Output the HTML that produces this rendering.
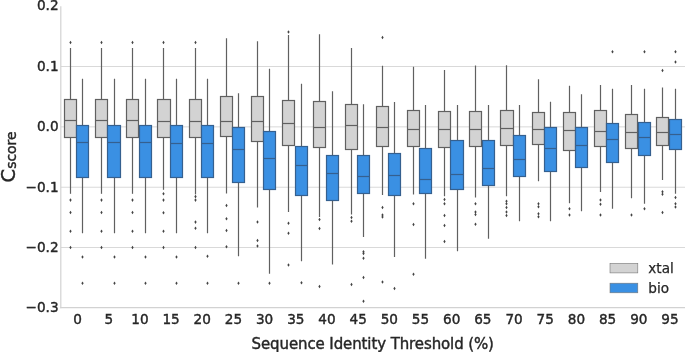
<!DOCTYPE html>
<html lang="en">
<head>
<meta charset="utf-8">
<title>Cscore vs Sequence Identity Threshold</title>
<style>
html,body{margin:0;padding:0;background:#ffffff;}
body{width:685px;height:352px;overflow:hidden;}
svg{display:block;}
text{font-family:"DejaVu Sans","Liberation Sans",sans-serif;fill:#262626;stroke:#262626;stroke-width:0.4px;}
.tick{font-size:13.6px;stroke-width:0.25px;}
.lab{font-size:15px;}
.leg{font-size:13.6px;stroke-width:0.25px;}
</style>
</head>
<body>
<svg width="685" height="352" viewBox="0 0 685 352">
<rect x="0" y="0" width="685" height="352" fill="#ffffff"/>

<g stroke="#d2d2d2" stroke-width="0.85" fill="none">
<line x1="60.8" y1="66.5" x2="685" y2="66.5"/>
<line x1="60.8" y1="126.85" x2="685" y2="126.85"/>
<line x1="60.8" y1="187.25" x2="685" y2="187.25"/>
<line x1="60.8" y1="247.5" x2="685" y2="247.5"/>
</g>
<g stroke="#606060" stroke-width="1.2" fill="none">
<line x1="70.5" y1="48" x2="70.5" y2="99.5"/>
<line x1="70.5" y1="137.5" x2="70.5" y2="193.8"/>
<rect x="64.5" y="99.5" width="12" height="38" fill="#d3d3d3"/>
<line x1="64.5" y1="120.5" x2="76.5" y2="120.5"/>
<line x1="82.5" y1="78.75" x2="82.5" y2="125.5"/>
<line x1="82.5" y1="177.5" x2="82.5" y2="233.25"/>
<rect x="76.5" y="125.5" width="12" height="52" fill="#3a90e3" stroke="#35608f"/>
<line x1="76.5" y1="142.5" x2="88.5" y2="142.5" stroke="#35608f"/>
<line x1="101.5" y1="48" x2="101.5" y2="99.5"/>
<line x1="101.5" y1="137.5" x2="101.5" y2="193.8"/>
<rect x="95.5" y="99.5" width="12" height="38" fill="#d3d3d3"/>
<line x1="95.5" y1="120.5" x2="107.5" y2="120.5"/>
<line x1="114.5" y1="78.75" x2="114.5" y2="125.5"/>
<line x1="114.5" y1="177.5" x2="114.5" y2="233.25"/>
<rect x="107.5" y="125.5" width="13" height="52" fill="#3a90e3" stroke="#35608f"/>
<line x1="107.5" y1="142.5" x2="120.5" y2="142.5" stroke="#35608f"/>
<line x1="132.5" y1="48" x2="132.5" y2="99.5"/>
<line x1="132.5" y1="137.5" x2="132.5" y2="193.8"/>
<rect x="126.5" y="99.5" width="12" height="38" fill="#d3d3d3"/>
<line x1="126.5" y1="120.5" x2="138.5" y2="120.5"/>
<line x1="145.5" y1="78.75" x2="145.5" y2="125.5"/>
<line x1="145.5" y1="177.5" x2="145.5" y2="233.25"/>
<rect x="139.5" y="125.5" width="12" height="52" fill="#3a90e3" stroke="#35608f"/>
<line x1="139.5" y1="142.5" x2="151.5" y2="142.5" stroke="#35608f"/>
<line x1="163.5" y1="48" x2="163.5" y2="99.5"/>
<line x1="163.5" y1="137.5" x2="163.5" y2="189.8"/>
<rect x="157.5" y="99.5" width="13" height="38" fill="#d3d3d3"/>
<line x1="157.5" y1="121.5" x2="170.5" y2="121.5"/>
<line x1="176.5" y1="78.75" x2="176.5" y2="125.5"/>
<line x1="176.5" y1="177.5" x2="176.5" y2="233.25"/>
<rect x="170.5" y="125.5" width="12" height="52" fill="#3a90e3" stroke="#35608f"/>
<line x1="170.5" y1="143.5" x2="182.5" y2="143.5" stroke="#35608f"/>
<line x1="195.5" y1="48" x2="195.5" y2="99.5"/>
<line x1="195.5" y1="137.5" x2="195.5" y2="194.4"/>
<rect x="189.5" y="99.5" width="12" height="38" fill="#d3d3d3"/>
<line x1="189.5" y1="121.5" x2="201.5" y2="121.5"/>
<line x1="207.5" y1="78.75" x2="207.5" y2="125.5"/>
<line x1="207.5" y1="177.5" x2="207.5" y2="233.25"/>
<rect x="201.5" y="125.5" width="12" height="52" fill="#3a90e3" stroke="#35608f"/>
<line x1="201.5" y1="143.5" x2="213.5" y2="143.5" stroke="#35608f"/>
<line x1="226.5" y1="38.25" x2="226.5" y2="96.5"/>
<line x1="226.5" y1="136.5" x2="226.5" y2="193.5"/>
<rect x="220.5" y="96.5" width="12" height="40" fill="#d3d3d3"/>
<line x1="220.5" y1="121.5" x2="232.5" y2="121.5"/>
<line x1="238.5" y1="93.25" x2="238.5" y2="127.5"/>
<line x1="238.5" y1="182.5" x2="238.5" y2="256.25"/>
<rect x="232.5" y="127.5" width="12" height="55" fill="#3a90e3" stroke="#35608f"/>
<line x1="232.5" y1="149.5" x2="244.5" y2="149.5" stroke="#35608f"/>
<line x1="257.5" y1="41.25" x2="257.5" y2="96.5"/>
<line x1="257.5" y1="141.5" x2="257.5" y2="207.5"/>
<rect x="251.5" y="96.5" width="12" height="45" fill="#d3d3d3"/>
<line x1="251.5" y1="121.5" x2="263.5" y2="121.5"/>
<line x1="269.5" y1="68.75" x2="269.5" y2="131.5"/>
<line x1="269.5" y1="189.5" x2="269.5" y2="273.75"/>
<rect x="263.5" y="131.5" width="12" height="58" fill="#3a90e3" stroke="#35608f"/>
<line x1="263.5" y1="158.5" x2="275.5" y2="158.5" stroke="#35608f"/>
<line x1="288.5" y1="35" x2="288.5" y2="100.5"/>
<line x1="288.5" y1="145.5" x2="288.5" y2="212"/>
<rect x="282.5" y="100.5" width="12" height="45" fill="#d3d3d3"/>
<line x1="282.5" y1="123.5" x2="294.5" y2="123.5"/>
<line x1="301.5" y1="83.75" x2="301.5" y2="146.5"/>
<line x1="301.5" y1="195.5" x2="301.5" y2="261.25"/>
<rect x="295.5" y="146.5" width="12" height="49" fill="#3a90e3" stroke="#35608f"/>
<line x1="295.5" y1="165.5" x2="307.5" y2="165.5" stroke="#35608f"/>
<line x1="319.5" y1="34.25" x2="319.5" y2="101.5"/>
<line x1="319.5" y1="147.5" x2="319.5" y2="217"/>
<rect x="313.5" y="101.5" width="12" height="46" fill="#d3d3d3"/>
<line x1="313.5" y1="127.5" x2="325.5" y2="127.5"/>
<line x1="332.5" y1="91.25" x2="332.5" y2="155.5"/>
<line x1="332.5" y1="200.5" x2="332.5" y2="264.5"/>
<rect x="326.5" y="155.5" width="12" height="45" fill="#3a90e3" stroke="#35608f"/>
<line x1="326.5" y1="173.5" x2="338.5" y2="173.5" stroke="#35608f"/>
<line x1="351.5" y1="48" x2="351.5" y2="104.5"/>
<line x1="351.5" y1="149.5" x2="351.5" y2="214.5"/>
<rect x="345.5" y="104.5" width="12" height="45" fill="#d3d3d3"/>
<line x1="345.5" y1="125.5" x2="357.5" y2="125.5"/>
<line x1="363.5" y1="104.25" x2="363.5" y2="155.5"/>
<line x1="363.5" y1="193.5" x2="363.5" y2="237"/>
<rect x="357.5" y="155.5" width="12" height="38" fill="#3a90e3" stroke="#35608f"/>
<line x1="357.5" y1="176.5" x2="369.5" y2="176.5" stroke="#35608f"/>
<line x1="382.5" y1="65.75" x2="382.5" y2="106.5"/>
<line x1="382.5" y1="146.5" x2="382.5" y2="195"/>
<rect x="376.5" y="106.5" width="12" height="40" fill="#d3d3d3"/>
<line x1="376.5" y1="127.5" x2="388.5" y2="127.5"/>
<line x1="394.5" y1="102" x2="394.5" y2="153.5"/>
<line x1="394.5" y1="195.5" x2="394.5" y2="257"/>
<rect x="388.5" y="153.5" width="12" height="42" fill="#3a90e3" stroke="#35608f"/>
<line x1="388.5" y1="175.5" x2="400.5" y2="175.5" stroke="#35608f"/>
<line x1="413.5" y1="66.75" x2="413.5" y2="110.5"/>
<line x1="413.5" y1="146.5" x2="413.5" y2="194.5"/>
<rect x="407.5" y="110.5" width="12" height="36" fill="#d3d3d3"/>
<line x1="407.5" y1="129.5" x2="419.5" y2="129.5"/>
<line x1="425.5" y1="105" x2="425.5" y2="148.5"/>
<line x1="425.5" y1="193.5" x2="425.5" y2="258.75"/>
<rect x="419.5" y="148.5" width="12" height="45" fill="#3a90e3" stroke="#35608f"/>
<line x1="419.5" y1="179.5" x2="431.5" y2="179.5" stroke="#35608f"/>
<line x1="444.5" y1="70" x2="444.5" y2="111.5"/>
<line x1="444.5" y1="147.5" x2="444.5" y2="196.25"/>
<rect x="438.5" y="111.5" width="12" height="36" fill="#d3d3d3"/>
<line x1="438.5" y1="129.5" x2="450.5" y2="129.5"/>
<line x1="457.5" y1="105" x2="457.5" y2="140.5"/>
<line x1="457.5" y1="189.5" x2="457.5" y2="251.25"/>
<rect x="450.5" y="140.5" width="13" height="49" fill="#3a90e3" stroke="#35608f"/>
<line x1="450.5" y1="174.5" x2="463.5" y2="174.5" stroke="#35608f"/>
<line x1="475.5" y1="65.5" x2="475.5" y2="111.5"/>
<line x1="475.5" y1="146.5" x2="475.5" y2="197.5"/>
<rect x="469.5" y="111.5" width="12" height="35" fill="#d3d3d3"/>
<line x1="469.5" y1="129.5" x2="481.5" y2="129.5"/>
<line x1="488.5" y1="105" x2="488.5" y2="140.5"/>
<line x1="488.5" y1="185.5" x2="488.5" y2="238.75"/>
<rect x="482.5" y="140.5" width="12" height="45" fill="#3a90e3" stroke="#35608f"/>
<line x1="482.5" y1="168.5" x2="494.5" y2="168.5" stroke="#35608f"/>
<line x1="506.5" y1="65.25" x2="506.5" y2="110.5"/>
<line x1="506.5" y1="145.5" x2="506.5" y2="196.25"/>
<rect x="500.5" y="110.5" width="13" height="35" fill="#d3d3d3"/>
<line x1="500.5" y1="128.5" x2="513.5" y2="128.5"/>
<line x1="519.5" y1="105" x2="519.5" y2="135.5"/>
<line x1="519.5" y1="176.5" x2="519.5" y2="221.25"/>
<rect x="513.5" y="135.5" width="12" height="41" fill="#3a90e3" stroke="#35608f"/>
<line x1="513.5" y1="159.5" x2="525.5" y2="159.5" stroke="#35608f"/>
<line x1="538.5" y1="79.25" x2="538.5" y2="112.5"/>
<line x1="538.5" y1="144.5" x2="538.5" y2="181.25"/>
<rect x="532.5" y="112.5" width="12" height="32" fill="#d3d3d3"/>
<line x1="532.5" y1="129.5" x2="544.5" y2="129.5"/>
<line x1="550.5" y1="101.75" x2="550.5" y2="127.5"/>
<line x1="550.5" y1="171.5" x2="550.5" y2="221.25"/>
<rect x="544.5" y="127.5" width="12" height="44" fill="#3a90e3" stroke="#35608f"/>
<line x1="544.5" y1="148.5" x2="556.5" y2="148.5" stroke="#35608f"/>
<line x1="569.5" y1="85.75" x2="569.5" y2="112.5"/>
<line x1="569.5" y1="150.5" x2="569.5" y2="203.25"/>
<rect x="563.5" y="112.5" width="12" height="38" fill="#d3d3d3"/>
<line x1="563.5" y1="130.5" x2="575.5" y2="130.5"/>
<line x1="581.5" y1="94.25" x2="581.5" y2="127.5"/>
<line x1="581.5" y1="167.5" x2="581.5" y2="211.25"/>
<rect x="575.5" y="127.5" width="12" height="40" fill="#3a90e3" stroke="#35608f"/>
<line x1="575.5" y1="145.5" x2="587.5" y2="145.5" stroke="#35608f"/>
<line x1="600.5" y1="85" x2="600.5" y2="110.5"/>
<line x1="600.5" y1="146.5" x2="600.5" y2="192"/>
<rect x="594.5" y="110.5" width="12" height="36" fill="#d3d3d3"/>
<line x1="594.5" y1="131.5" x2="606.5" y2="131.5"/>
<line x1="612.5" y1="88.75" x2="612.5" y2="123.5"/>
<line x1="612.5" y1="162.5" x2="612.5" y2="208.75"/>
<rect x="606.5" y="123.5" width="12" height="39" fill="#3a90e3" stroke="#35608f"/>
<line x1="606.5" y1="139.5" x2="618.5" y2="139.5" stroke="#35608f"/>
<line x1="631.5" y1="85" x2="631.5" y2="114.5"/>
<line x1="631.5" y1="148.5" x2="631.5" y2="198.25"/>
<rect x="625.5" y="114.5" width="12" height="34" fill="#d3d3d3"/>
<line x1="625.5" y1="132.5" x2="637.5" y2="132.5"/>
<line x1="644.5" y1="88.75" x2="644.5" y2="122.5"/>
<line x1="644.5" y1="155.5" x2="644.5" y2="203.75"/>
<rect x="638.5" y="122.5" width="12" height="33" fill="#3a90e3" stroke="#35608f"/>
<line x1="638.5" y1="137.5" x2="650.5" y2="137.5" stroke="#35608f"/>
<line x1="662.5" y1="87.5" x2="662.5" y2="117.5"/>
<line x1="662.5" y1="145.5" x2="662.5" y2="180"/>
<rect x="656.5" y="117.5" width="12" height="28" fill="#d3d3d3"/>
<line x1="656.5" y1="132.5" x2="668.5" y2="132.5"/>
<line x1="675.5" y1="88.75" x2="675.5" y2="119.5"/>
<line x1="675.5" y1="149.5" x2="675.5" y2="193.75"/>
<rect x="669.5" y="119.5" width="12" height="30" fill="#3a90e3" stroke="#35608f"/>
<line x1="669.5" y1="134.5" x2="681.5" y2="134.5" stroke="#35608f"/>
</g>
<g fill="#444444" stroke="none">
<path d="M70.5 40.7l1.15 1.8l-1.15 1.8l-1.15 -1.8z"/>
<path d="M70.5 198.3l1.15 1.8l-1.15 1.8l-1.15 -1.8z"/>
<path d="M70.5 210.7l1.15 1.8l-1.15 1.8l-1.15 -1.8z"/>
<path d="M70.5 229.45l1.15 1.8l-1.15 1.8l-1.15 -1.8z"/>
<path d="M70.5 245.7l1.15 1.8l-1.15 1.8l-1.15 -1.8z"/>
<path d="M82.5 255.2l1.15 1.8l-1.15 1.8l-1.15 -1.8z"/>
<path d="M82.5 281.45l1.15 1.8l-1.15 1.8l-1.15 -1.8z"/>
<path d="M101.5 40.7l1.15 1.8l-1.15 1.8l-1.15 -1.8z"/>
<path d="M101.5 198.3l1.15 1.8l-1.15 1.8l-1.15 -1.8z"/>
<path d="M101.5 210.7l1.15 1.8l-1.15 1.8l-1.15 -1.8z"/>
<path d="M101.5 229.45l1.15 1.8l-1.15 1.8l-1.15 -1.8z"/>
<path d="M101.5 245.7l1.15 1.8l-1.15 1.8l-1.15 -1.8z"/>
<path d="M114.5 255.2l1.15 1.8l-1.15 1.8l-1.15 -1.8z"/>
<path d="M114.5 281.45l1.15 1.8l-1.15 1.8l-1.15 -1.8z"/>
<path d="M132.5 40.7l1.15 1.8l-1.15 1.8l-1.15 -1.8z"/>
<path d="M132.5 198.3l1.15 1.8l-1.15 1.8l-1.15 -1.8z"/>
<path d="M132.5 210.7l1.15 1.8l-1.15 1.8l-1.15 -1.8z"/>
<path d="M132.5 229.45l1.15 1.8l-1.15 1.8l-1.15 -1.8z"/>
<path d="M132.5 245.7l1.15 1.8l-1.15 1.8l-1.15 -1.8z"/>
<path d="M145.5 255.2l1.15 1.8l-1.15 1.8l-1.15 -1.8z"/>
<path d="M145.5 281.45l1.15 1.8l-1.15 1.8l-1.15 -1.8z"/>
<path d="M163.5 40.7l1.15 1.8l-1.15 1.8l-1.15 -1.8z"/>
<path d="M163.5 192l1.15 1.8l-1.15 1.8l-1.15 -1.8z"/>
<path d="M163.5 198.3l1.15 1.8l-1.15 1.8l-1.15 -1.8z"/>
<path d="M163.5 210.9l1.15 1.8l-1.15 1.8l-1.15 -1.8z"/>
<path d="M163.5 229.45l1.15 1.8l-1.15 1.8l-1.15 -1.8z"/>
<path d="M163.5 245.7l1.15 1.8l-1.15 1.8l-1.15 -1.8z"/>
<path d="M176.5 255.2l1.15 1.8l-1.15 1.8l-1.15 -1.8z"/>
<path d="M176.5 281.45l1.15 1.8l-1.15 1.8l-1.15 -1.8z"/>
<path d="M195.5 40.7l1.15 1.8l-1.15 1.8l-1.15 -1.8z"/>
<path d="M195.5 194.8l1.15 1.8l-1.15 1.8l-1.15 -1.8z"/>
<path d="M195.5 198.3l1.15 1.8l-1.15 1.8l-1.15 -1.8z"/>
<path d="M195.5 220.3l1.15 1.8l-1.15 1.8l-1.15 -1.8z"/>
<path d="M195.5 226.45l1.15 1.8l-1.15 1.8l-1.15 -1.8z"/>
<path d="M195.5 245.7l1.15 1.8l-1.15 1.8l-1.15 -1.8z"/>
<path d="M207.5 254.45l1.15 1.8l-1.15 1.8l-1.15 -1.8z"/>
<path d="M207.5 281.45l1.15 1.8l-1.15 1.8l-1.15 -1.8z"/>
<path d="M226.5 203.7l1.15 1.8l-1.15 1.8l-1.15 -1.8z"/>
<path d="M226.5 216.95l1.15 1.8l-1.15 1.8l-1.15 -1.8z"/>
<path d="M226.5 228.7l1.15 1.8l-1.15 1.8l-1.15 -1.8z"/>
<path d="M226.5 244.95l1.15 1.8l-1.15 1.8l-1.15 -1.8z"/>
<path d="M238.5 281.45l1.15 1.8l-1.15 1.8l-1.15 -1.8z"/>
<path d="M257.5 220.2l1.15 1.8l-1.15 1.8l-1.15 -1.8z"/>
<path d="M257.5 238.7l1.15 1.8l-1.15 1.8l-1.15 -1.8z"/>
<path d="M257.5 244.2l1.15 1.8l-1.15 1.8l-1.15 -1.8z"/>
<path d="M269.5 281.45l1.15 1.8l-1.15 1.8l-1.15 -1.8z"/>
<path d="M288.5 30.2l1.15 1.8l-1.15 1.8l-1.15 -1.8z"/>
<path d="M288.5 221.45l1.15 1.8l-1.15 1.8l-1.15 -1.8z"/>
<path d="M288.5 231.45l1.15 1.8l-1.15 1.8l-1.15 -1.8z"/>
<path d="M288.5 263.2l1.15 1.8l-1.15 1.8l-1.15 -1.8z"/>
<path d="M301.5 280.95l1.15 1.8l-1.15 1.8l-1.15 -1.8z"/>
<path d="M319.5 217.7l1.15 1.8l-1.15 1.8l-1.15 -1.8z"/>
<path d="M319.5 226.7l1.15 1.8l-1.15 1.8l-1.15 -1.8z"/>
<path d="M319.5 284.7l1.15 1.8l-1.15 1.8l-1.15 -1.8z"/>
<path d="M351.5 215.7l1.15 1.8l-1.15 1.8l-1.15 -1.8z"/>
<path d="M351.5 219.45l1.15 1.8l-1.15 1.8l-1.15 -1.8z"/>
<path d="M351.5 282.7l1.15 1.8l-1.15 1.8l-1.15 -1.8z"/>
<path d="M363.5 249.95l1.15 1.8l-1.15 1.8l-1.15 -1.8z"/>
<path d="M363.5 251.7l1.15 1.8l-1.15 1.8l-1.15 -1.8z"/>
<path d="M363.5 256.45l1.15 1.8l-1.15 1.8l-1.15 -1.8z"/>
<path d="M363.5 275.7l1.15 1.8l-1.15 1.8l-1.15 -1.8z"/>
<path d="M363.5 299.45l1.15 1.8l-1.15 1.8l-1.15 -1.8z"/>
<path d="M382.5 35.7l1.15 1.8l-1.15 1.8l-1.15 -1.8z"/>
<path d="M382.5 205.7l1.15 1.8l-1.15 1.8l-1.15 -1.8z"/>
<path d="M382.5 213.2l1.15 1.8l-1.15 1.8l-1.15 -1.8z"/>
<path d="M382.5 215.2l1.15 1.8l-1.15 1.8l-1.15 -1.8z"/>
<path d="M382.5 280.2l1.15 1.8l-1.15 1.8l-1.15 -1.8z"/>
<path d="M394.5 286.7l1.15 1.8l-1.15 1.8l-1.15 -1.8z"/>
<path d="M413.5 201.95l1.15 1.8l-1.15 1.8l-1.15 -1.8z"/>
<path d="M413.5 222.7l1.15 1.8l-1.15 1.8l-1.15 -1.8z"/>
<path d="M413.5 272.45l1.15 1.8l-1.15 1.8l-1.15 -1.8z"/>
<path d="M444.5 197.7l1.15 1.8l-1.15 1.8l-1.15 -1.8z"/>
<path d="M444.5 201.95l1.15 1.8l-1.15 1.8l-1.15 -1.8z"/>
<path d="M444.5 213.7l1.15 1.8l-1.15 1.8l-1.15 -1.8z"/>
<path d="M444.5 223.7l1.15 1.8l-1.15 1.8l-1.15 -1.8z"/>
<path d="M444.5 239.7l1.15 1.8l-1.15 1.8l-1.15 -1.8z"/>
<path d="M475.5 201.95l1.15 1.8l-1.15 1.8l-1.15 -1.8z"/>
<path d="M475.5 210.2l1.15 1.8l-1.15 1.8l-1.15 -1.8z"/>
<path d="M475.5 212.7l1.15 1.8l-1.15 1.8l-1.15 -1.8z"/>
<path d="M475.5 222.45l1.15 1.8l-1.15 1.8l-1.15 -1.8z"/>
<path d="M506.5 199.45l1.15 1.8l-1.15 1.8l-1.15 -1.8z"/>
<path d="M506.5 201.95l1.15 1.8l-1.15 1.8l-1.15 -1.8z"/>
<path d="M506.5 205.7l1.15 1.8l-1.15 1.8l-1.15 -1.8z"/>
<path d="M506.5 210.2l1.15 1.8l-1.15 1.8l-1.15 -1.8z"/>
<path d="M506.5 213.7l1.15 1.8l-1.15 1.8l-1.15 -1.8z"/>
<path d="M538.5 201.95l1.15 1.8l-1.15 1.8l-1.15 -1.8z"/>
<path d="M538.5 204.95l1.15 1.8l-1.15 1.8l-1.15 -1.8z"/>
<path d="M538.5 211.95l1.15 1.8l-1.15 1.8l-1.15 -1.8z"/>
<path d="M538.5 214.95l1.15 1.8l-1.15 1.8l-1.15 -1.8z"/>
<path d="M569.5 206.95l1.15 1.8l-1.15 1.8l-1.15 -1.8z"/>
<path d="M569.5 213.2l1.15 1.8l-1.15 1.8l-1.15 -1.8z"/>
<path d="M600.5 198.2l1.15 1.8l-1.15 1.8l-1.15 -1.8z"/>
<path d="M600.5 202.45l1.15 1.8l-1.15 1.8l-1.15 -1.8z"/>
<path d="M600.5 213.2l1.15 1.8l-1.15 1.8l-1.15 -1.8z"/>
<path d="M612.5 49.95l1.15 1.8l-1.15 1.8l-1.15 -1.8z"/>
<path d="M631.5 213.2l1.15 1.8l-1.15 1.8l-1.15 -1.8z"/>
<path d="M644.5 49.95l1.15 1.8l-1.15 1.8l-1.15 -1.8z"/>
<path d="M644.5 206.95l1.15 1.8l-1.15 1.8l-1.15 -1.8z"/>
<path d="M662.5 68.7l1.15 1.8l-1.15 1.8l-1.15 -1.8z"/>
<path d="M662.5 189.95l1.15 1.8l-1.15 1.8l-1.15 -1.8z"/>
<path d="M662.5 192.45l1.15 1.8l-1.15 1.8l-1.15 -1.8z"/>
<path d="M662.5 210.7l1.15 1.8l-1.15 1.8l-1.15 -1.8z"/>
<path d="M675.5 49.95l1.15 1.8l-1.15 1.8l-1.15 -1.8z"/>
<path d="M675.5 60.2l1.15 1.8l-1.15 1.8l-1.15 -1.8z"/>
<path d="M675.5 195.7l1.15 1.8l-1.15 1.8l-1.15 -1.8z"/>
<path d="M675.5 201.95l1.15 1.8l-1.15 1.8l-1.15 -1.8z"/>
<path d="M675.5 205.2l1.15 1.8l-1.15 1.8l-1.15 -1.8z"/>
</g>
<g stroke="#d2d2d2" stroke-width="1.2" fill="none">
<line x1="60.8" y1="6.3" x2="60.8" y2="308.15"/>
<line x1="60.25" y1="307.6" x2="685" y2="307.6"/>
</g>
<g class="tick" text-anchor="end">
<text x="58.6" y="10.4">0.2</text>
<text x="58.6" y="70.8">0.1</text>
<text x="58.6" y="131.2">0.0</text>
<text x="58.6" y="191.6">−0.1</text>
<text x="58.6" y="251.8">−0.2</text>
<text x="58.6" y="311.9">−0.3</text>
</g>
<g class="tick" text-anchor="middle">
<text x="77.55" y="323.7">0</text>
<text x="108.73" y="323.7">5</text>
<text x="139.91" y="323.7">10</text>
<text x="171.09" y="323.7">15</text>
<text x="202.27" y="323.7">20</text>
<text x="233.45" y="323.7">25</text>
<text x="264.63" y="323.7">30</text>
<text x="295.81" y="323.7">35</text>
<text x="326.99" y="323.7">40</text>
<text x="358.17" y="323.7">45</text>
<text x="389.35" y="323.7">50</text>
<text x="420.53" y="323.7">55</text>
<text x="451.71" y="323.7">60</text>
<text x="482.89" y="323.7">65</text>
<text x="514.07" y="323.7">70</text>
<text x="545.25" y="323.7">75</text>
<text x="576.43" y="323.7">80</text>
<text x="607.61" y="323.7">85</text>
<text x="638.79" y="323.7">90</text>
<text x="669.97" y="323.7">95</text>
</g>
<text class="lab" x="251.6" y="348.7" style="letter-spacing:-0.11px">Sequence Identity Threshold (%)</text>
<text transform="translate(15.3,182.4) rotate(-90)" x="0" y="0" style="font-size:19.5px">C<tspan dy="1.1" style="font-size:13.9px">score</tspan></text>
<g stroke="#777777" stroke-width="0.6">
<rect x="610" y="263.3" width="27.8" height="9.6" fill="#d3d3d3"/>
<rect x="610" y="283.2" width="27.8" height="9.6" fill="#3a90e3"/>
</g>
<text class="leg" x="648.3" y="272.9">xtal</text>
<text class="leg" x="648.3" y="292.9">bio</text>
</svg>
</body>
</html>
